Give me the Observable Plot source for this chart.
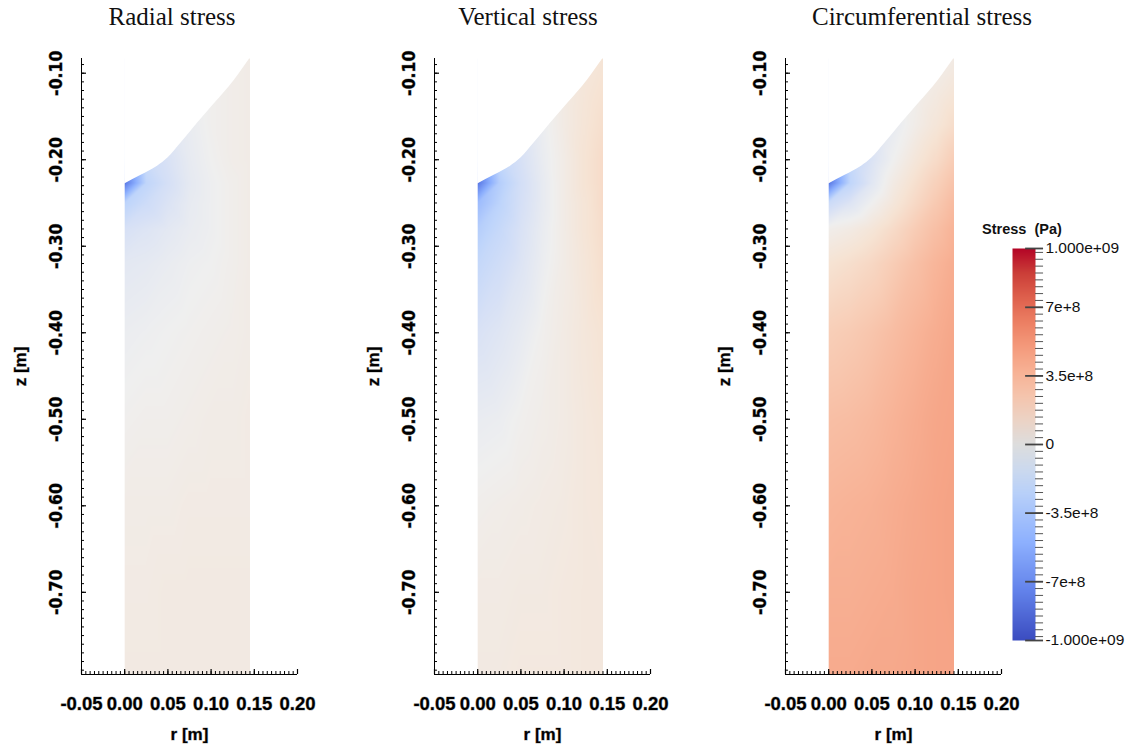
<!DOCTYPE html>
<html>
<head>
<meta charset="utf-8">
<script src="https://cdn.jsdelivr.net/npm/d3@7"></script>
<script src="https://cdn.jsdelivr.net/npm/@observablehq/plot@0.6"></script>
<style>
  html, body { margin: 0; padding: 0; background: white; }
  #wrap { position: relative; width: 1131px; height: 749px; overflow: hidden; background: white; }
  .panel { position: absolute; top: 0; }
  .title { position: absolute; top: 4px; width: 320px; text-align: center; font-family: "Liberation Serif", "Times New Roman", serif; font-size: 25px; color: #111; line-height: 1; }
  #cbtitle { position: absolute; left: 982px; top: 221px; font-family: "Liberation Sans", Arial, sans-serif; font-weight: bold; font-size: 14.5px; white-space: pre; color: #111; }
</style>
</head>
<body>
<div id="wrap"></div>
<script>
// ---------------- data ----------------
const panelTitles = ["Radial stress", "Vertical stress", "Circumferential stress"];
const rDomain = [-0.05, 0.20];
const zDomain = [-0.795, -0.083];
const rTicks = [-0.05, 0.00, 0.05, 0.10, 0.15, 0.20];
const rTickLabels = ["-0.05", "0.00", "0.05", "0.10", "0.15", "0.20"];
const zTicks = [-0.10, -0.20, -0.30, -0.40, -0.50, -0.60, -0.70];
const zTickLabels = ["-0.10", "-0.20", "-0.30", "-0.40", "-0.50", "-0.60", "-0.70"];

// top boundary of the body (r, z), from the axis r = 0 to the outer radius
const boundaryR = [0, 0.019, 0.038, 0.050, 0.065, 0.084, 0.104, 0.127, 0.145];
const boundaryZ = [-0.228, -0.218, -0.2075, -0.198, -0.181, -0.158, -0.135, -0.108, -0.083];

// sampling grid of the stress fields (values in 1e8 Pa)
const rCols = [0, 0.025, 0.05, 0.075, 0.10, 0.125, 0.145];
const zRows = [-0.083, -0.12, -0.16, -0.20, -0.227, -0.25, -0.28, -0.32, -0.40, -0.50, -0.60, -0.70, -0.795];

const radialStress = [
  [-1.2, -1.0, -0.6, -0.2,  0.1, 0.3, 0.4],
  [-1.2, -1.0, -0.6, -0.2,  0.1, 0.3, 0.4],
  [-1.5, -1.2, -0.8, -0.3,  0.1, 0.3, 0.4],
  [-2.5, -1.8, -1.1, -0.4,  0.0, 0.3, 0.4],
  [-8.0, -2.4, -1.3, -0.5, -0.1, 0.2, 0.4],
  [-2.6, -1.7, -1.0, -0.4, -0.1, 0.2, 0.4],
  [-1.2, -0.9, -0.6, -0.3, -0.1, 0.2, 0.4],
  [-0.6, -0.5, -0.3, -0.1,  0.0, 0.2, 0.4],
  [-0.2, -0.1,  0.0,  0.1,  0.2, 0.3, 0.4],
  [ 0.1,  0.2,  0.2,  0.3,  0.4, 0.4, 0.5],
  [ 0.4,  0.4,  0.4,  0.5,  0.5, 0.5, 0.5],
  [ 0.5,  0.5,  0.6,  0.6,  0.6, 0.6, 0.6],
  [ 0.6,  0.6,  0.6,  0.6,  0.6, 0.6, 0.6]
];
const verticalStress = [
  [-2.0, -1.5, -0.8, -0.2, 0.5, 0.9, 1.1],
  [-2.0, -1.5, -0.8, -0.2, 0.5, 1.0, 1.3],
  [-2.5, -1.8, -1.0, -0.2, 0.5, 1.1, 1.5],
  [-3.5, -2.3, -1.2, -0.3, 0.4, 1.2, 1.7],
  [-8.0, -3.0, -1.4, -0.4, 0.4, 1.2, 1.7],
  [-4.2, -2.6, -1.3, -0.4, 0.4, 1.1, 1.7],
  [-3.0, -2.1, -1.1, -0.3, 0.4, 1.1, 1.6],
  [-2.2, -1.6, -0.9, -0.2, 0.4, 1.0, 1.5],
  [-1.1, -0.8, -0.4,  0.1, 0.5, 0.9, 1.2],
  [-0.3, -0.2,  0.1,  0.3, 0.5, 0.8, 1.0],
  [ 0.2,  0.3,  0.4,  0.5, 0.6, 0.8, 0.9],
  [ 0.5,  0.5,  0.6,  0.6, 0.7, 0.8, 0.8],
  [ 0.6,  0.6,  0.7,  0.7, 0.7, 0.8, 0.8]
];
const circumferentialStress = [
  [-2.0, -1.5, -1.0, -0.4, 0.0, 0.3, 0.5],
  [-2.0, -1.5, -1.0, -0.4, 0.1, 0.6, 1.0],
  [-2.5, -1.8, -1.1, -0.4, 0.3, 1.0, 1.6],
  [-3.5, -2.2, -1.0,  0.0, 0.9, 1.7, 2.5],
  [-8.0, -2.4, -0.7,  0.5, 1.4, 2.3, 3.0],
  [-1.8, -0.9,  0.0,  0.9, 1.8, 2.7, 3.4],
  [ 0.2,  0.5,  1.0,  1.7, 2.5, 3.2, 3.8],
  [ 1.2,  1.5,  1.9,  2.5, 3.1, 3.7, 4.1],
  [ 2.4,  2.6,  2.9,  3.3, 3.7, 4.1, 4.4],
  [ 3.2,  3.3,  3.5,  3.8, 4.1, 4.4, 4.5],
  [ 3.7,  3.8,  3.9,  4.1, 4.3, 4.5, 4.6],
  [ 4.0,  4.0,  4.1,  4.2, 4.4, 4.5, 4.6],
  [ 4.2,  4.2,  4.3,  4.3, 4.4, 4.5, 4.5]
];
const fields = [radialStress, verticalStress, circumferentialStress];

// colour bar
const barDomain = [-1e9, 1e9];
const barTicks = [1e9, 7e8, 3.5e8, 0, -3.5e8, -7e8, -1e9];
const barTickLabels = ["1.000e+09", "7e+8", "3.5e+8", "0", "-3.5e+8", "-7e+8", "-1.000e+09"];
const barMinorStep = 3.5e7;

// "Cool to Warm" colour map (position 0..1, colour)
const mapT = [0, 0.125, 0.25, 0.375, 0.4375, 0.5, 0.5625, 0.625, 0.6875, 0.75, 0.8125, 0.875, 0.9375, 1];
const mapColors = ["#3b4cc0", "#6282ea", "#8db0fe", "#b8d0f9", "#ccd9ee", "#dddddd", "#ecd3c5", "#f5c4ad", "#f7b194", "#f49a7b", "#ec7f63", "#de604d", "#cb3e38", "#b40426"];
// same map as it appears on the lit surface in the render
const litColors = ["#3b4cc0", "#6282ea", "#8db0fe", "#bfd5fb", "#d6e0f6", "#efefef", "#f6e3d3", "#f8cdb6", "#f8b498", "#f49a7b", "#ec7f63", "#de604d", "#cb3e38", "#b40426"];

// ---------------- drawing ----------------
const interpOf = (colors) => {
  const s = d3.scaleLinear().domain(mapT).range(colors).interpolate(d3.interpolateRgb).clamp(true);
  return (t) => s(t);
};
const fieldInterp = interpOf(litColors);
const barInterp = interpOf(mapColors);

const frameW = 216, frameH = 616;
const mL = 81, mT = 58, mB = 75, plotW = 350;
const boundary = boundaryR.map((r, i) => ({r, z: boundaryZ[i]}));
const rMinor = d3.range(Math.round(rDomain[0] / 0.005), Math.round(rDomain[1] / 0.005) + 1).map(k => k * 0.005);
const zMinor = d3.range(Math.ceil(zDomain[0] / 0.01), Math.floor(zDomain[1] / 0.01) + 1).map(k => k * 0.01).filter(z => z >= zDomain[0] && z <= zDomain[1]);

const tickFont = {fontFamily: "Liberation Sans, Arial, sans-serif", fontWeight: "bold", fill: "black", stroke: "black", strokeOpacity: 0.35, strokeWidth: 1};
const yTickFont = {fontFamily: "Liberation Sans Narrow, DejaVu Sans Condensed, Liberation Sans, sans-serif", fontWeight: "bold", fill: "black", stroke: "black", strokeOpacity: 0.35, strokeWidth: 1};

const wrap = document.getElementById("wrap");
const panelLefts = [0, 353, 704];
const titleCenters = [172, 528, 922];

fields.forEach((field, p) => {
  const pts = [];
  zRows.forEach((z, i) => rCols.forEach((r, j) => pts.push({r, z, v: field[i][j] * 1e8})));
  const chart = Plot.plot({
    width: plotW, height: mT + frameH + mB,
    marginLeft: mL, marginRight: plotW - mL - frameW, marginTop: mT, marginBottom: mB,
    x: {domain: rDomain, axis: null},
    y: {domain: zDomain, axis: null},
    color: {type: "linear", domain: barDomain, interpolate: fieldInterp},
    style: {background: "transparent", overflow: "visible"},
    marks: [
      Plot.raster(pts, {x: "r", y: "z", fill: "v", x1: rCols[0], x2: rCols[rCols.length - 1], y1: zDomain[0], y2: zDomain[1], interpolate: "barycentric"}),
      Plot.areaY(boundary, {x: "r", y1: "z", y2: zDomain[1], fill: "white", curve: "monotone-x"}),
      Plot.ruleX([rDomain[0]], {stroke: "black"}),
      Plot.ruleY([zDomain[0]], {stroke: "black"}),
      Plot.tickY(zMinor, {y: d => d, insetRight: frameW - 3, stroke: "black"}),
      Plot.tickY(zTicks, {y: d => d, insetRight: frameW - 5, stroke: "black", strokeWidth: 1.2}),
      Plot.tickX(rMinor, {x: d => d, insetTop: frameH - 3, stroke: "black"}),
      Plot.tickX(rTicks, {x: d => d, insetTop: frameH - 5, stroke: "black", strokeWidth: 1.2}),
      Plot.text(zTicks, {y: d => d, frameAnchor: "left", dx: -25, rotate: -90, textAnchor: "middle", lineAnchor: "middle", text: (d, i) => zTickLabels[i], fontSize: 17.5, ...yTickFont}),
      Plot.text(rTicks, {x: d => d, frameAnchor: "bottom", dy: 30, textAnchor: "middle", lineAnchor: "middle", text: (d, i) => rTickLabels[i], fontSize: 18.5, ...tickFont}),
      Plot.text(["z [m]"], {frameAnchor: "left", dx: -61, rotate: -90, textAnchor: "middle", lineAnchor: "middle", fontSize: 17, ...tickFont}),
      Plot.text(["r [m]"], {frameAnchor: "bottom", dy: 60, textAnchor: "middle", lineAnchor: "middle", fontSize: 17, ...tickFont})
    ]
  });
  chart.classList.add("panel");
  chart.style.left = panelLefts[p] + "px";
  wrap.appendChild(chart);

  const t = document.createElement("div");
  t.className = "title";
  t.textContent = panelTitles[p];
  t.style.left = (titleCenters[p] - 160) + "px";
  wrap.appendChild(t);
});

// colour bar
const barMinor = d3.range(Math.ceil(barDomain[0] / barMinorStep), Math.floor(barDomain[1] / barMinorStep) + 1).map(k => k * barMinorStep);
const bar = Plot.plot({
  width: 171, height: 460,
  marginLeft: 52, marginRight: 96, marginTop: 48, marginBottom: 20,
  x: {domain: [0, 1], axis: null},
  y: {domain: barDomain, axis: null},
  color: {type: "linear", domain: barDomain, interpolate: barInterp},
  style: {background: "transparent", overflow: "visible"},
  marks: [
    Plot.raster({fill: (x, y) => y, x1: 0, x2: 1, y1: barDomain[0], y2: barDomain[1], width: 1, height: 392}),
    Plot.ruleY(barMinor, {y: d => d, x1: 1, x2: 1.35, stroke: "#555"}),
    Plot.ruleY(barTicks, {y: d => d, x1: 0.57, x2: 1.35, stroke: "#444", strokeWidth: 1.8}),
    Plot.text(barTicks, {y: d => d, x: 1.43, text: (d, i) => barTickLabels[i], textAnchor: "start", fontSize: 15.5, fontFamily: "Liberation Sans, Arial, sans-serif", fill: "#111"})
  ]
});
bar.classList.add("panel");
bar.style.left = "960px";
bar.style.top = "200px";
wrap.appendChild(bar);

const cbt = document.createElement("div");
cbt.id = "cbtitle";
cbt.textContent = "Stress  (Pa)";
wrap.appendChild(cbt);
</script>
</body>
</html>
